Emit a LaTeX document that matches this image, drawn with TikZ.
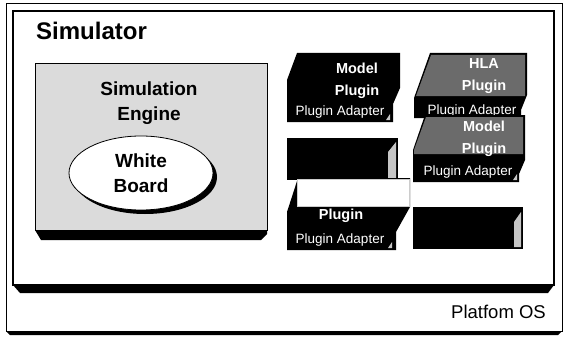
\documentclass[tikz,border=0pt]{standalone}
\usepackage{fontspec}
\setmainfont{Liberation Sans}
\usetikzlibrary{shapes,positioning}
\definecolor{fg}{rgb}{0,0,0}
\definecolor{stipple}{gray}{0.86}
\definecolor{darkstipple}{gray}{0.42}
\tikzstyle{frame}=[draw=fg, line width=1pt]
\tikzstyle{bevel}=[fill=fg]
\tikzstyle{title}=[font=\fontsize{24}{28}\selectfont\bfseries, anchor=west, inner sep=0pt]
\tikzstyle{big}=[font=\fontsize{19}{25}\selectfont\bfseries, align=center, inner sep=0pt]
\tikzstyle{plugtext}=[font=\fontsize{14.5}{22}\selectfont\bfseries, text=white, align=center, inner sep=0pt]
\tikzstyle{adapter}=[font=\fontsize{13.5}{15}\selectfont, text=white, inner sep=0pt]
\tikzstyle{plug}=[fill=fg]
\tikzstyle{card}=[fill=darkstipple]
\tikzstyle{curl}=[fill=gray!45]

\begin{document}
\begin{tikzpicture}[x=1pt, y=-1pt]

    \useasboundingbox (0,0) rectangle (565,337);

    % platform frame
    \draw[frame] (6,4) rectangle (562,331);
    \fill[bevel] (6,331) -- (562,331) -- (558,335) -- (10,335) -- cycle;
    \node[font=\fontsize{18.5}{20}\selectfont, anchor=east, inner sep=0pt] (os) at (546,312) {Platfom OS};

    % simulator box
    \draw[frame, line width=1.2pt] (13,11) rectangle (554,285);
    \fill[bevel] (13,285) -- (554,285) -- (548,293) -- (20,293) -- cycle;
    \node[title] (sim) at (36,31) {Simulator};

    % simulation engine
    \filldraw[fill=stipple, draw=fg, thin] (35,63) rectangle (267,230);
    \fill[bevel] (35,230) -- (267,230) -- (267,234) -- (261,240) -- (41,240) -- cycle;
    \node[big] (engine) at (149,103) {Simulation\\Engine};

    \fill[fg] (145,177) ellipse [x radius=72pt, y radius=37pt];
    \node[big, ellipse, draw=fg, thick, fill=white, minimum width=144pt, minimum height=74pt] (wb) at (141,173) {White\\Board};

    % model plugin, top left
    \fill[plug] (297,53) -- (400,53) -- (400,88) -- (393,104) -- (393,122) -- (287,122) -- (287,80) -- cycle;
    \fill[curl] (386,120) -- (390,114) -- (390,120) -- cycle;
    \node[plugtext] (mp1) at (357,81) {Model\\Plugin};
    \node[adapter] (pa1) at (340,112) {Plugin Adapter};

    % hla plugin
    \fill[plug] (430,53) -- (527,53) -- (527,95) -- (521,110) -- (521,118) -- (414,118) -- (414,98) -- cycle;
    \fill[card] (431,55) -- (525,55) -- (525,96) -- (416,96) -- cycle;
    \node[plugtext] (hla) at (484,76) {HLA\\Plugin};
    \node[adapter] (pa2) at (472,111) {Plugin Adapter};

    % model plugin, right
    \fill[plug] (425,115) -- (525,115) -- (525,160) -- (519,174) -- (519,182) -- (413,182) -- (413,150) -- cycle;
    \fill[card] (426,117) -- (523,117) -- (523,154) -- (414,154) -- (414,150) -- cycle;
    \node[plugtext] (mp2) at (484,139) {Model\\Plugin};
    \node[adapter] (pa3) at (468,172) {Plugin Adapter};
    \fill[curl] (513,180) -- (517,174) -- (517,180) -- cycle;

    % empty slot
    \fill[plug] (287,138) rectangle (398,180);
    \fill[curl] (388,178) -- (388,152) -- (396,142) -- (396,178) -- cycle;

    % model plugin, bottom left
    \fill[plug] (298,178) -- (410,178) -- (410,207) -- (396,232) -- (396,250) -- (287,250) -- (287,212) -- cycle;
    \node[plugtext] (mp3) at (341,205) {Model\\Plugin};
    \filldraw[fill=white, draw=gray!40] (297,179) rectangle (409,206);
    \node[adapter] (pa4) at (340,240) {Plugin Adapter};
    \fill[curl] (388,248) -- (392,242) -- (392,248) -- cycle;

    % empty slot
    \fill[plug] (413,207) rectangle (523,249);
    \fill[curl] (514,247) -- (514,222) -- (521,212) -- (521,247) -- cycle;

\end{tikzpicture}
\end{document}
